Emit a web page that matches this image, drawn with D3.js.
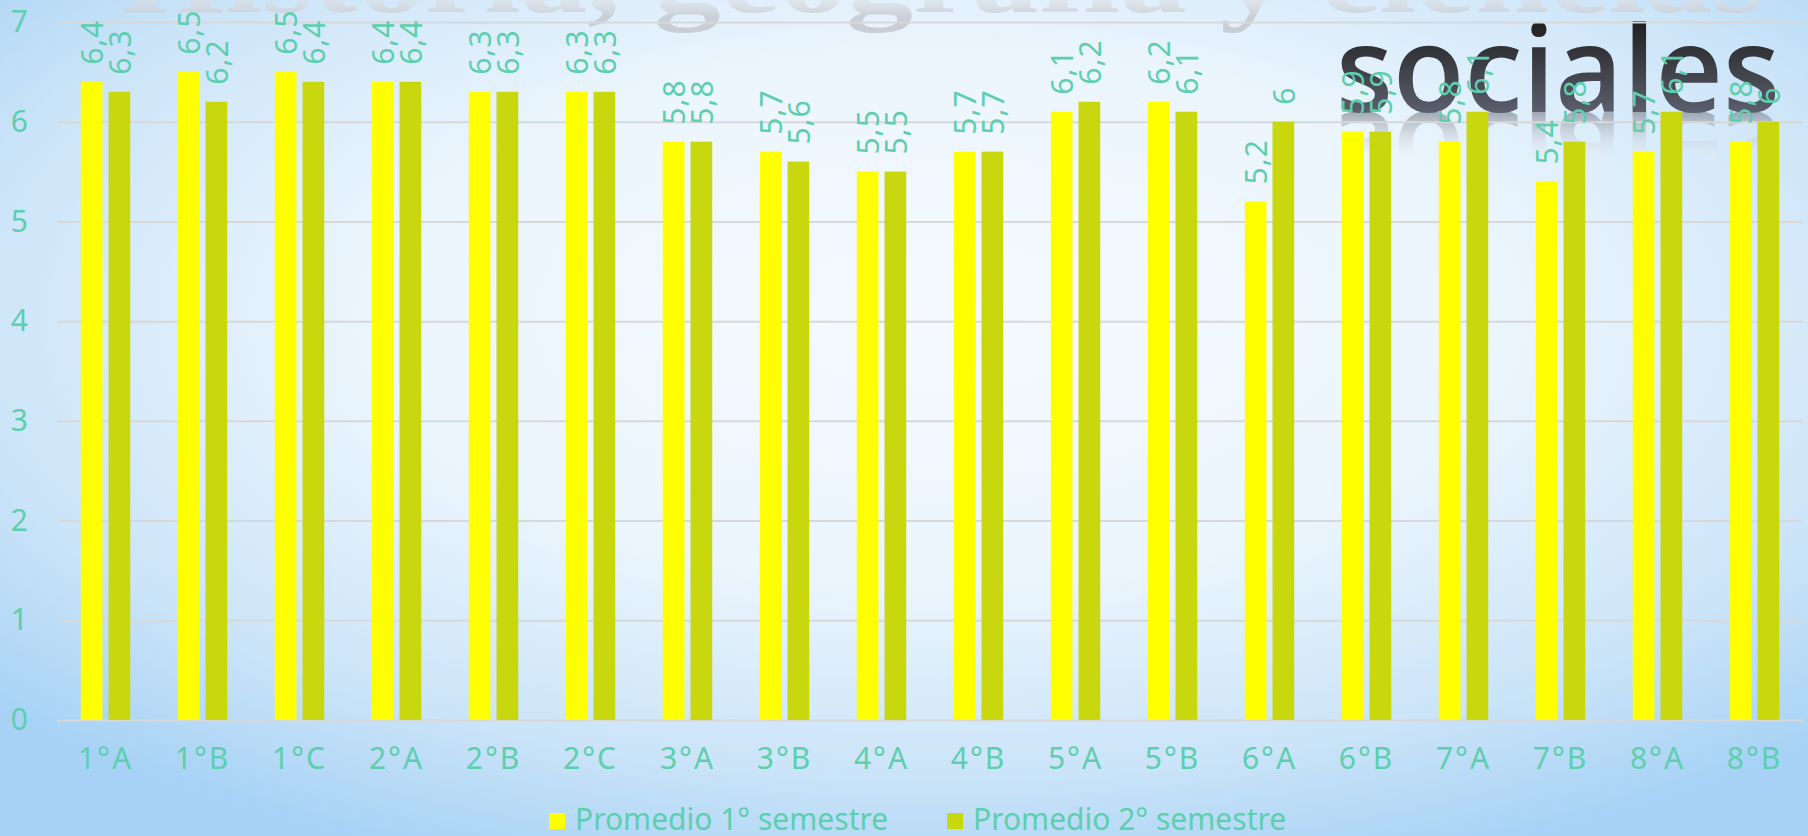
<!DOCTYPE html>
<html>
<head>
<meta charset="utf-8">
<script src="https://cdn.jsdelivr.net/npm/d3@7"></script>
<style>
  html, body { margin: 0; padding: 0; overflow: hidden; }
  svg { display: block; }
  text { font-family: "Noto Sans", "Open Sans", sans-serif; }
</style>
</head>
<body>
<svg id="chart" width="1808" height="836"></svg>
<script>
// data
const cursos = ["1°A","1°B","1°C","2°A","2°B","2°C","3°A","3°B","4°A","4°B","5°A","5°B","6°A","6°B","7°A","7°B","8°A","8°B"];
const semestre1 = [6.4,6.5,6.5,6.4,6.3,6.3,5.8,5.7,5.5,5.7,6.1,6.2,5.2,5.9,5.8,5.4,5.7,5.8];
const semestre2 = [6.3,6.2,6.4,6.4,6.3,6.3,5.8,5.6,5.5,5.7,6.2,6.1,6.0,5.9,6.1,5.8,6.1,6.0];
const series = ["Promedio 1° semestre", "Promedio 2° semestre"];
const colores = ["#ffff00", "#c9d70f"];
const yTicks = [0,1,2,3,4,5,6,7];

const W = 1808, H = 836;
const plotL = 57, plotR = 1803, plotT = 22, plotB = 720;
const teal = "#5dcfae";

const svg = d3.select("#chart");
const defs = svg.append("defs");

// slide background
const bg = defs.append("radialGradient").attr("id", "bg")
  .attr("cx", "52%").attr("cy", "38%").attr("r", "70%");
bg.append("stop").attr("offset", "0%").attr("stop-color", "#f6faff");
bg.append("stop").attr("offset", "45%").attr("stop-color", "#ebf5fd");
bg.append("stop").attr("offset", "78%").attr("stop-color", "#cbe4f8");
bg.append("stop").attr("offset", "100%").attr("stop-color", "#a7d2f5");
svg.append("rect").attr("width", W).attr("height", H).attr("fill", "url(#bg)");

// faded title cut at the top
const wm = defs.append("linearGradient").attr("id", "wm")
  .attr("gradientUnits", "userSpaceOnUse").attr("x1", 0).attr("y1", -30).attr("x2", 0).attr("y2", 18);
wm.append("stop").attr("offset", "0%").attr("stop-color", "#ffffff").attr("stop-opacity", 0);
wm.append("stop").attr("offset", "100%").attr("stop-color", "#c6cad2").attr("stop-opacity", 0.9);
svg.append("text")
  .attr("x", 121).attr("y", 12)
  .attr("textLength", 1643).attr("lengthAdjust", "spacingAndGlyphs")
  .style("font-family", "'Liberation Serif', serif")
  .style("font-weight", "bold").style("font-size", "100px")
  .attr("fill", "url(#wm)")
  .text("Historia, geografía y ciencias");

// "sociales" with reflection
const soc = defs.append("linearGradient").attr("id", "soc")
  .attr("gradientUnits", "userSpaceOnUse").attr("x1", 0).attr("y1", 24).attr("x2", 0).attr("y2", 112);
soc.append("stop").attr("offset", "0%").attr("stop-color", "#222222");
soc.append("stop").attr("offset", "100%").attr("stop-color", "#5b5e6c");
const refl = defs.append("linearGradient").attr("id", "refl")
  .attr("gradientUnits", "userSpaceOnUse").attr("x1", 0).attr("y1", 112).attr("x2", 0).attr("y2", 58);
refl.append("stop").attr("offset", "0%").attr("stop-color", "#8a909c").attr("stop-opacity", 0.75);
refl.append("stop").attr("offset", "100%").attr("stop-color", "#ffffff").attr("stop-opacity", 0);

svg.append("text")
  .attr("x", 1336).attr("y", 112)
  .attr("transform", "translate(0,224) scale(1,-1)")
  .attr("textLength", 444).attr("lengthAdjust", "spacingAndGlyphs")
  .style("font-family", "'Open Sans', sans-serif")
  .style("font-weight", 600).style("font-size", "120px")
  .attr("fill", "url(#refl)")
  .text("sociales");
svg.append("text")
  .attr("x", 1336).attr("y", 112)
  .attr("textLength", 444).attr("lengthAdjust", "spacingAndGlyphs")
  .style("font-family", "'Open Sans', sans-serif")
  .style("font-weight", 600).style("font-size", "120px")
  .attr("fill", "url(#soc)")
  .text("sociales");

// scales
const x0 = d3.scaleBand().domain(cursos).range([plotL, plotR])
  .paddingInner(0.49).paddingOuter(0.245);
const x1 = d3.scaleBand().domain(series).range([0, x0.bandwidth()]).paddingInner(0.217);
const y = d3.scaleLinear().domain([0, 7]).range([plotB, plotT]);

// y axis with gridlines
const yAxis = svg.append("g")
  .attr("transform", `translate(${plotL},0)`)
  .call(d3.axisLeft(y).tickValues(yTicks).tickFormat(d3.format("d"))
    .tickSize(-(plotR - plotL)).tickPadding(29));
yAxis.select(".domain").remove();
yAxis.selectAll("line").attr("stroke", "#d8d8d8").attr("stroke-width", 2);
yAxis.selectAll("text")
  .attr("fill", teal).style("font-size", "30px")
  .style("font-family", "'Noto Sans', sans-serif");

// x axis labels
const xAxis = svg.append("g")
  .attr("transform", `translate(0,${plotB})`)
  .call(d3.axisBottom(x0).tickSize(0));
xAxis.select(".domain").remove();
xAxis.selectAll("text")
  .attr("y", 38).attr("dy", "0.35em")
  .attr("fill", teal).style("font-size", "30px")
  .style("letter-spacing", "2px")
  .style("font-family", "'Noto Sans', sans-serif");

// bars
const rows = cursos.map((c, i) => ({ curso: c, vals: [semestre1[i], semestre2[i]] }));
const grupos = svg.append("g").selectAll("g")
  .data(rows).join("g")
  .attr("transform", d => `translate(${x0(d.curso)},0)`);

grupos.selectAll("rect")
  .data(d => d.vals.map((v, k) => ({ serie: series[k], v: v, k: k })))
  .join("rect")
  .attr("x", d => x1(d.serie))
  .attr("y", d => y(d.v))
  .attr("width", x1.bandwidth())
  .attr("height", d => y(0) - y(d.v))
  .attr("fill", d => colores[d.k]);

// value labels, rotated
const fmt = v => String(v).replace(".", ",");
grupos.selectAll("text")
  .data(d => d.vals.map((v, k) => ({ serie: series[k], v: v })))
  .join("text")
  .attr("transform", d => `translate(${x1(d.serie) + x1.bandwidth() / 2},${y(d.v) - 17}) rotate(-90)`)
  .attr("dominant-baseline", "central")
  .attr("fill", teal)
  .style("font-size", "30px")
  .style("letter-spacing", "1px")
  .text(d => fmt(d.v));

// legend
const legendX = [549, 947];
const leg = svg.append("g").selectAll("g")
  .data(series).join("g")
  .attr("transform", (d, i) => `translate(${legendX[i]},813)`);
leg.append("rect").attr("width", 16).attr("height", 16).attr("fill", (d, i) => colores[i]);
leg.append("text")
  .attr("x", 26).attr("y", 17)
  .attr("fill", teal).style("font-size", "30px")
  .text(d => d);
</script>
</body>
</html>
